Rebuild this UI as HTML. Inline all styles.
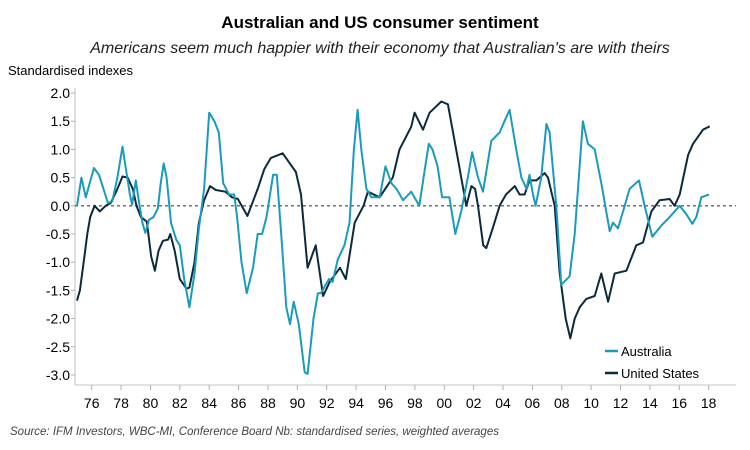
<!DOCTYPE html>
<html><head><meta charset="utf-8">
<style>
html,body{margin:0;padding:0;background:#fff;}
svg{display:block;font-family:"Liberation Sans",sans-serif;}
</style></head>
<body>
<svg id="chart" width="750" height="450" viewBox="0 0 750 450">
<text x="380" y="28" text-anchor="middle" font-size="17" font-weight="bold" fill="#000">Australian and US consumer sentiment</text>
<text x="380" y="53" text-anchor="middle" font-size="16" font-style="italic" fill="#222">Americans seem much happier with their economy that Australian's are with theirs</text>
<text x="8" y="75" font-size="13" fill="#000">Standardised indexes</text>
<g id="yaxis"></g>
<g id="xaxis"></g>
<g id="series"></g>
<g>
<line x1="605" y1="351" x2="618" y2="351" stroke="#1a9bbd" stroke-width="2.5"/>
<text x="621" y="356" font-size="13">Australia</text>
<line x1="605" y1="373" x2="618" y2="373" stroke="#0c2a3d" stroke-width="2.5"/>
<text x="621" y="378" font-size="13">United States</text>
</g>
<text x="10" y="435" font-size="11.5" font-style="italic" fill="#444">Source: IFM Investors, WBC-MI, Conference Board  Nb: standardised series, weighted averages</text>
</svg>
<script>
const yTicks=[2.0,1.5,1.0,0.5,0.0,-0.5,-1.0,-1.5,-2.0,-2.5,-3.0];
const xTickYears=[1976,1978,1980,1982,1984,1986,1988,1990,1992,1994,1996,1998,2000,2002,2004,2006,2008,2010,2012,2014,2016,2018];
const ausYears=[1975.0,1975.3,1975.6,1976.15,1976.5,1976.8,1977.1,1977.4,1977.75,1978.1,1978.3,1978.6,1978.75,1979.0,1979.2,1979.45,1979.65,1979.9,1980.2,1980.5,1980.7,1980.9,1981.1,1981.4,1981.75,1982.0,1982.3,1982.65,1983.0,1983.3,1983.65,1984.0,1984.35,1984.65,1984.95,1985.35,1985.7,1985.9,1986.2,1986.55,1986.98,1987.3,1987.6,1987.9,1988.35,1988.6,1988.9,1989.25,1989.5,1989.75,1990.1,1990.5,1990.7,1991.1,1991.4,1991.6,1992.15,1992.4,1992.75,1993.2,1993.55,1993.85,1994.1,1994.35,1994.7,1995.05,1995.6,1996.0,1996.4,1996.75,1997.2,1997.75,1998.3,1998.65,1998.95,1999.2,1999.55,1999.85,2000.35,2000.75,2001.15,2001.6,2001.9,2002.3,2002.64,2003.2,2003.77,2004.1,2004.45,2004.9,2005.25,2005.6,2005.8,2006.04,2006.22,2006.6,2006.95,2007.17,2007.63,2007.97,2008.53,2008.88,2009.44,2009.78,2010.24,2010.69,2011.26,2011.49,2011.83,2012.28,2012.62,2013.26,2013.64,2014.16,2014.78,2015.34,2016.03,2016.48,2016.89,2017.16,2017.5,2018.02];
const ausValues=[0.0,0.5,0.15,0.67,0.55,0.3,0.05,0.08,0.5,1.05,0.7,0.2,0.02,0.45,0.1,-0.3,-0.48,-0.25,-0.2,-0.05,0.4,0.75,0.5,-0.3,-0.6,-0.7,-1.3,-1.8,-1.2,-0.4,0.3,1.65,1.5,1.3,0.4,0.2,0.2,-0.2,-1.0,-1.55,-1.1,-0.5,-0.5,-0.2,0.55,0.55,-0.5,-1.8,-2.1,-1.7,-2.1,-2.95,-2.98,-2.0,-1.55,-1.55,-1.3,-1.35,-0.95,-0.7,-0.3,1.0,1.7,1.0,0.3,0.15,0.15,0.7,0.4,0.3,0.1,0.25,0.0,0.6,1.1,1.0,0.7,0.15,0.15,-0.5,-0.1,0.5,0.95,0.5,0.25,1.15,1.3,1.5,1.7,1.0,0.5,0.3,0.55,0.2,0.0,0.5,1.45,1.3,0.0,-1.4,-1.25,-0.5,1.5,1.1,1.0,0.4,-0.45,-0.3,-0.4,0.0,0.3,0.45,0.0,-0.55,-0.35,-0.2,0.0,-0.15,-0.32,-0.2,0.15,0.2];
const usYears=[1975.0,1975.2,1975.5,1975.7,1975.9,1976.2,1976.55,1976.95,1977.3,1977.75,1978.1,1978.45,1978.8,1979.05,1979.35,1979.75,1980.05,1980.3,1980.55,1980.85,1981.2,1981.35,1981.65,1982.0,1982.45,1982.65,1983.0,1983.3,1983.65,1984.05,1984.45,1985.1,1985.55,1985.95,1986.6,1987.3,1987.75,1988.2,1989.0,1989.9,1990.25,1990.7,1991.25,1991.75,1992.2,1992.9,1993.3,1993.9,1994.5,1994.8,1995.6,1996.5,1996.95,1997.75,1997.98,1998.55,1999.0,1999.8,2000.25,2000.95,2001.5,2001.85,2002.1,2002.3,2002.65,2002.86,2003.3,2003.77,2004.2,2004.8,2005.13,2005.47,2005.8,2006.27,2006.83,2007.06,2007.52,2007.86,2008.27,2008.58,2008.88,2009.22,2009.67,2010.24,2010.69,2011.15,2011.6,2012.4,2013.07,2013.53,2014.1,2014.66,2015.34,2015.68,2016.03,2016.6,2016.93,2017.61,2018.07];
const usValues=[-1.68,-1.5,-0.9,-0.5,-0.2,0.0,-0.1,0.0,0.05,0.3,0.52,0.5,0.3,0.0,-0.2,-0.28,-0.9,-1.15,-0.8,-0.62,-0.6,-0.5,-0.8,-1.3,-1.47,-1.45,-1.0,-0.3,0.1,0.35,0.28,0.25,0.15,0.12,-0.18,0.3,0.65,0.85,0.93,0.6,0.2,-1.1,-0.7,-1.6,-1.35,-1.1,-1.3,-0.3,0.0,0.25,0.15,0.5,1.0,1.4,1.65,1.35,1.65,1.85,1.8,0.8,0.0,0.35,0.3,0.0,-0.7,-0.75,-0.4,0.0,0.2,0.35,0.2,0.2,0.45,0.45,0.58,0.5,0.0,-1.2,-2.0,-2.35,-2.0,-1.8,-1.65,-1.6,-1.2,-1.7,-1.2,-1.15,-0.7,-0.65,-0.1,0.1,0.12,0.0,0.2,0.9,1.1,1.35,1.41];

const NS='http://www.w3.org/2000/svg';
const X0=75,X1=736,Y_AXIS=385;
function xScale(yr){return 91.7+(yr-1976)*14.69;}
function yScale(v){return 205.8-v*56.4;}
function mk(tag,attrs,parent){const e=document.createElementNS(NS,tag);for(const k in attrs)e.setAttribute(k,attrs[k]);parent.appendChild(e);return e;}

const ya=document.getElementById('yaxis');
let ax=mk('line',{x1:X0,y1:88,x2:X0,y2:Y_AXIS,stroke:'#d0d0d0','stroke-width':1.3},ya);


yTicks.forEach(v=>{
  const y=yScale(v);
  const t=mk('line',{x1:X0-4,y1:y,x2:X0,y2:y,stroke:'#b0b0b0'},ya);
  
  
  const l=mk('text',{x:70,y:y+5,'text-anchor':'end','font-size':14,fill:'#000'},ya);
  l.textContent=v.toFixed(1);
  
  
});
const zl=mk('line',{x1:X0,y1:yScale(0),x2:X1,y2:yScale(0),stroke:'#666','stroke-width':1.3,'stroke-dasharray':'3,3'},ya);



const xa=document.getElementById('xaxis');
const xl=mk('line',{x1:X0,y1:Y_AXIS,x2:X1,y2:Y_AXIS,stroke:'#d0d0d0','stroke-width':1.3},xa);


xTickYears.forEach(yr=>{
  const x=xScale(yr);
  const t=mk('line',{x1:x,y1:Y_AXIS,x2:x,y2:Y_AXIS+5,stroke:'#b0b0b0'},xa);
  
  
  const l=mk('text',{x:x,y:408,'text-anchor':'middle','font-size':14,fill:'#000'},xa);
  l.textContent=String(yr%100).padStart(2,'0');
  
  
});

const sg=document.getElementById('series');
function drawLine(yrs,vals,color){
  let d='';
  yrs.forEach((yr,i)=>{d+=(i?'L':'M')+xScale(yr).toFixed(1)+','+yScale(vals[i]).toFixed(1);});
  return mk('path',{d:d,fill:'none',stroke:color,'stroke-width':2,'stroke-linejoin':'round'},sg);
}
const us=drawLine(usYears,usValues,'#0c2a3d');


const au=drawLine(ausYears,ausValues,'#1a9bbd');


</script>
</body></html>
